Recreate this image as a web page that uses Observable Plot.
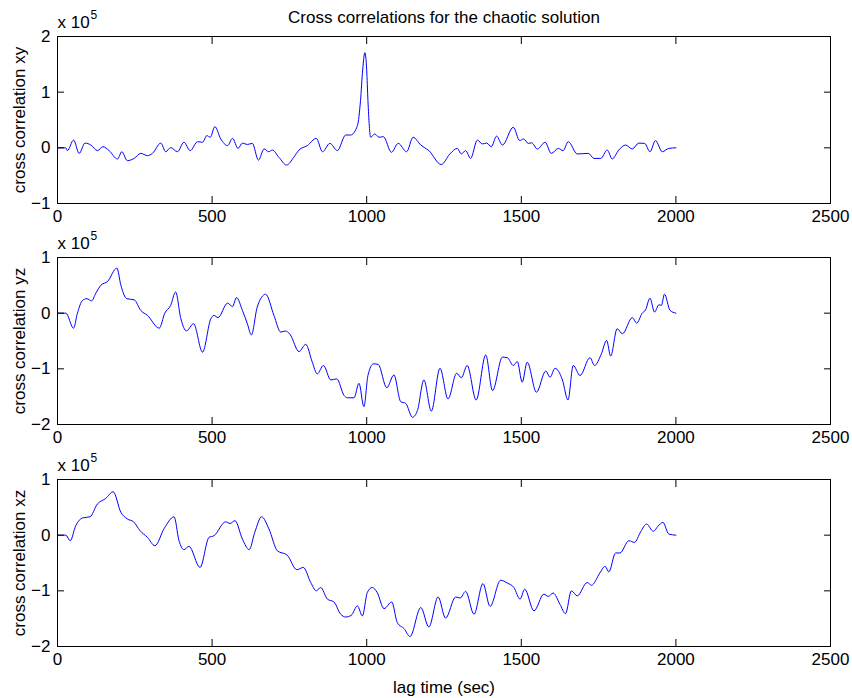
<!DOCTYPE html>
<html>
<head>
<meta charset="utf-8">
<script src="https://cdn.jsdelivr.net/npm/d3@7"></script>
<script src="https://cdn.jsdelivr.net/npm/@observablehq/plot@0.6"></script>
<style>
  body { margin: 0; background: #fff; }
  #chart { position: relative; width: 852px; height: 698px; }
  #chart svg { position: absolute; left: 0; }
</style>
</head>
<body>
<div id="chart"></div>
<script>
// Cross-correlation values in units of 1e5, sampled at the given lags (sec)
const xyLag = [0, 27, 32, 52, 70, 89, 108, 129, 147, 167, 194, 208, 226, 248, 269, 291, 307, 334, 350, 366, 388, 409, 429, 453, 469, 483, 494, 509, 528, 550, 566, 584, 598, 614, 630, 650, 668, 683, 695, 716, 741, 764, 781, 808, 837, 857, 881, 905, 932, 948, 970, 980, 987, 994, 1000, 1004, 1013, 1026, 1040, 1054, 1080, 1102, 1129, 1150, 1175, 1201, 1241, 1269, 1293, 1306, 1320, 1336, 1358, 1374, 1388, 1403, 1420, 1439, 1474, 1495, 1507, 1523, 1533, 1552, 1577, 1597, 1620, 1635, 1652, 1681, 1717, 1735, 1757, 1778, 1794, 1815, 1837, 1859, 1880, 1899, 1916, 1934, 1956, 1977, 2000];
const xyVal = [0, 0, -0.05, 0.14, -0.10, 0.085, 0.05, -0.05, 0.02, -0.05, -0.20, -0.07, -0.23, -0.19, -0.10, -0.14, -0.10, 0.085, -0.07, 0.005, -0.07, 0.10, -0.05, 0.11, 0.10, 0.22, 0.19, 0.38, 0.16, 0.04, 0.17, -0.01, 0.085, 0.06, 0.08, -0.22, -0.02, -0.07, -0.04, -0.17, -0.31, -0.17, -0.04, 0.04, 0.17, -0.07, 0.08, -0.05, 0.23, 0.23, 0.40, 0.85, 1.40, 1.71, 1.40, 0.85, 0.19, 0.25, 0.19, 0.20, -0.08, 0.08, -0.07, 0.19, 0.05, -0.05, -0.30, -0.11, -0.01, -0.11, -0.05, -0.19, 0.14, 0.07, 0.085, 0.02, 0.21, 0.05, 0.37, 0.13, 0.16, 0.08, 0.09, -0.02, 0.10, -0.10, -0.01, -0.05, 0.11, -0.11, -0.10, -0.19, -0.19, -0.04, -0.20, -0.04, 0.05, -0.02, 0.085, 0.08, -0.07, 0.13, -0.07, -0.01, 0];

const yzLag = [0, 27, 52, 64, 81, 95, 110, 124, 140, 162, 192, 205, 224, 248, 269, 291, 329, 347, 366, 382, 399, 417, 440, 469, 496, 506, 519, 550, 566, 579, 598, 614, 627, 646, 673, 700, 722, 737, 752, 781, 803, 824, 840, 860, 884, 903, 927, 937, 959, 975, 991, 1004, 1022, 1037, 1065, 1088, 1110, 1126, 1148, 1164, 1185, 1209, 1237, 1263, 1291, 1306, 1325, 1354, 1385, 1407, 1439, 1455, 1474, 1487, 1503, 1519, 1549, 1579, 1593, 1609, 1633, 1651, 1668, 1690, 1722, 1737, 1759, 1776, 1789, 1810, 1827, 1859, 1873, 1891, 1902, 1916, 1931, 1945, 1953, 1963, 1981, 2000];
const yzVal = [0, 0, -0.27, -0.01, 0.23, 0.26, 0.22, 0.36, 0.50, 0.57, 0.81, 0.50, 0.26, 0.24, 0.05, -0.04, -0.27, 0, 0.14, 0.38, -0.10, -0.32, -0.19, -0.70, -0.10, -0.04, -0.08, 0.18, 0.12, 0.28, 0.05, -0.19, -0.39, 0.11, 0.34, -0.04, -0.34, -0.32, -0.38, -0.69, -0.56, -0.88, -1.09, -0.94, -1.20, -1.18, -1.48, -1.52, -1.52, -1.26, -1.68, -1.12, -0.91, -0.92, -1.34, -1.11, -1.59, -1.62, -1.87, -1.75, -1.20, -1.76, -0.99, -1.54, -1.08, -1.16, -0.94, -1.56, -0.75, -1.39, -0.79, -0.80, -0.94, -0.87, -1.24, -0.88, -1.42, -1.04, -1.15, -0.99, -1.20, -1.56, -0.94, -1.12, -0.80, -0.94, -0.73, -0.49, -0.77, -0.28, -0.37, -0.08, -0.18, 0.0, 0.06, 0.27, 0.02, 0.15, 0.14, 0.34, 0.05, 0];

const xzLag = [0, 27, 41, 59, 81, 105, 129, 156, 180, 205, 226, 246, 267, 291, 315, 345, 377, 393, 409, 425, 461, 490, 506, 544, 558, 574, 598, 620, 638, 660, 684, 711, 743, 774, 795, 819, 837, 851, 873, 894, 916, 932, 950, 970, 986, 1002, 1018, 1034, 1056, 1081, 1099, 1121, 1140, 1175, 1201, 1231, 1255, 1288, 1302, 1320, 1347, 1376, 1399, 1433, 1455, 1476, 1496, 1511, 1541, 1573, 1587, 1603, 1625, 1643, 1662, 1681, 1713, 1727, 1754, 1771, 1783, 1805, 1819, 1848, 1866, 1886, 1905, 1927, 1942, 1958, 1977, 2000];
const xzVal = [0, 0, -0.10, 0.17, 0.31, 0.33, 0.56, 0.66, 0.78, 0.41, 0.29, 0.24, 0.08, -0.04, -0.19, 0.12, 0.33, -0.10, -0.26, -0.20, -0.58, -0.04, -0.01, 0.24, 0.21, 0.26, -0.07, -0.26, 0.05, 0.33, 0.11, -0.28, -0.36, -0.62, -0.58, -0.85, -1.00, -0.94, -1.15, -1.20, -1.42, -1.47, -1.44, -1.27, -1.45, -1.03, -0.94, -1.03, -1.32, -1.20, -1.57, -1.68, -1.82, -1.30, -1.65, -1.11, -1.49, -1.11, -1.13, -1.01, -1.42, -0.87, -1.28, -0.81, -0.86, -0.94, -1.15, -0.97, -1.36, -1.06, -1.10, -1.04, -1.24, -1.41, -1.00, -1.09, -0.85, -0.90, -0.68, -0.56, -0.66, -0.32, -0.32, -0.10, -0.13, 0.06, 0.20, 0.07, 0.16, 0.23, 0.02, 0];

const lagTicks = [0, 500, 1000, 1500, 2000, 2500];
const xyTicks = [-1, 0, 1, 2];
const yzTicks = [-2, -1, 0, 1];
const xzTicks = [-2, -1, 0, 1];

const chartTitle = "Cross correlations for the chaotic solution";
const xLabel = "lag time (sec)";
const scaleBase = ["x 10"];
const scaleExp = ["5"];

const font = "'Liberation Sans', Arial, Helvetica, sans-serif";
const intFormat = d3.format("d"); // plain integers, U+2212 minus for negatives
const container = document.getElementById("chart");

function panel({lag, val, yTicks, yLabel, top, height, marginBottom, title, xTitle}) {
  const rows = lag.map((t, i) => ({lag: t, value: val[i]}));
  const marks = [
    Plot.line(rows, {x: "lag", y: "value", stroke: "#0000ff", strokeWidth: 1, curve: "monotone-x"}),
    Plot.frame({stroke: "black", strokeWidth: 1}),
    Plot.axisX({ticks: lagTicks, tickFormat: intFormat, tickSize: -7, tickPadding: 13, fontSize: 17,
      label: xTitle ?? null, labelAnchor: "center", labelOffset: 46, labelArrow: "none"}),
    Plot.axisX({anchor: "top", ticks: lagTicks, tickSize: -7, tickFormat: () => "", label: null}),
    Plot.axisY({ticks: yTicks, tickFormat: intFormat, tickSize: -7, tickPadding: 14, fontSize: 17,
      label: yLabel, labelAnchor: "center", labelOffset: 45, labelArrow: "none"}),
    Plot.axisY({anchor: "right", ticks: yTicks, tickSize: -7, tickFormat: () => "", label: null}),
    Plot.text(scaleBase, {text: d => d, frameAnchor: "top-left", dy: -8.5, lineAnchor: "bottom", textAnchor: "start", fontSize: 17}),
    Plot.text(scaleExp, {text: d => d, frameAnchor: "top-left", dx: 33, dy: -17.5, lineAnchor: "bottom", textAnchor: "start", fontSize: 12})
  ];
  if (title) {
    marks.push(Plot.text([title], {text: d => d, frameAnchor: "top", dy: -13.3, lineAnchor: "bottom", fontSize: 17}));
  }
  const svg = Plot.plot({
    width: 852,
    height,
    marginLeft: 57,
    marginRight: 22,
    marginTop: 36,
    marginBottom,
    style: {background: "transparent", overflow: "visible", fontFamily: font, fontSize: "17px", color: "black"},
    x: {domain: [0, 2500]},
    y: {domain: d3.extent(yTicks)},
    marks
  });
  svg.style.top = top + "px";
  container.appendChild(svg);
}

panel({lag: xyLag, val: xyVal, yTicks: xyTicks, yLabel: "cross correlation xy", top: 0, height: 240, marginBottom: 37, title: chartTitle});
panel({lag: yzLag, val: yzVal, yTicks: yzTicks, yLabel: "cross correlation yz", top: 221, height: 240, marginBottom: 37});
panel({lag: xzLag, val: xzVal, yTicks: xzTicks, yLabel: "cross correlation xz", top: 443, height: 255, marginBottom: 52, xTitle: xLabel});
</script>
</body>
</html>
